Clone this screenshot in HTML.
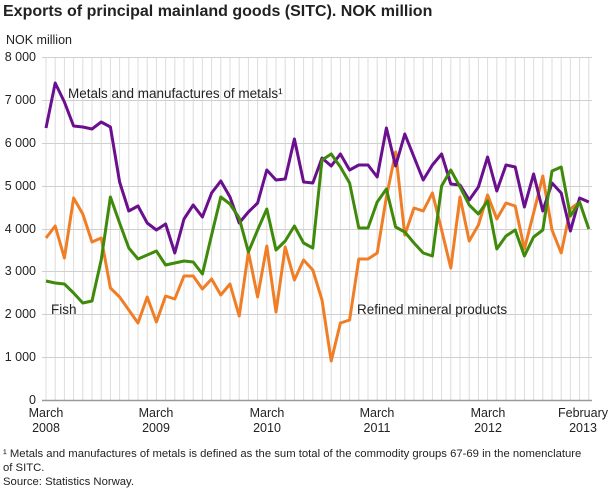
<!DOCTYPE html>
<html><head><meta charset="utf-8"><style>
body{margin:0;background:#fff;width:610px;height:488px;overflow:hidden;font-family:"Liberation Sans",sans-serif}
</style></head><body>
<svg width="610" height="488" xmlns="http://www.w3.org/2000/svg" font-family="Liberation Sans, sans-serif">
<text x="3" y="16" font-size="16" font-weight="bold" fill="#222">Exports of principal mainland goods (SITC). NOK million</text>
<text x="6" y="44" font-size="12.5" fill="#222">NOK million</text>
<g id="vg" stroke="#dcdcdc" stroke-width="1"></g>
<g stroke="#cfcfcf" stroke-width="1">
<line x1="42" x2="592" y1="57.5" y2="57.5"/><line x1="42" x2="592" y1="100.5" y2="100.5"/><line x1="42" x2="592" y1="143.5" y2="143.5"/><line x1="42" x2="592" y1="186.5" y2="186.5"/><line x1="42" x2="592" y1="229.5" y2="229.5"/><line x1="42" x2="592" y1="271.5" y2="271.5"/><line x1="42" x2="592" y1="314.5" y2="314.5"/><line x1="42" x2="592" y1="357.5" y2="357.5"/>
</g>
<line x1="42" x2="592" y1="400.5" y2="400.5" stroke="#999" stroke-width="1.5"/>
<g font-size="12.5" fill="#222" text-anchor="end">
<text x="36" y="61">8 000</text><text x="36" y="104">7 000</text><text x="36" y="147">6 000</text><text x="36" y="190">5 000</text><text x="36" y="233">4 000</text><text x="36" y="275">3 000</text><text x="36" y="318">2 000</text><text x="36" y="361">1 000</text><text x="36" y="404">0</text>
</g>
<g font-size="12.5" fill="#222" text-anchor="middle">
<text x="46" y="417">March</text><text x="46" y="432">2008</text>
<text x="156" y="417">March</text><text x="156" y="432">2009</text>
<text x="267" y="417">March</text><text x="267" y="432">2010</text>
<text x="377" y="417">March</text><text x="377" y="432">2011</text>
<text x="488" y="417">March</text><text x="488" y="432">2012</text>
<text x="583" y="417">February</text><text x="583" y="432">2013</text>
</g>
<g id="lines" fill="none" stroke-width="3" stroke-linejoin="round"></g>
<g fill="#222">
<text x="68" y="98" font-size="13.5">Metals and manufactures of metals¹</text>
<text x="51" y="314" font-size="13.5">Fish</text>
<text x="357" y="314" font-size="13.5">Refined mineral products</text>
</g>
<g font-size="11.3" fill="#222">
<text x="3" y="457">¹ Metals and manufactures of metals is defined as the sum total of the commodity groups 67-69 in the nomenclature</text>
<text x="3" y="471">of SITC.</text>
<text x="3" y="485">Source: Statistics Norway.</text>
</g>
</svg>
<script>
var vg=document.getElementById('vg'),ns='http://www.w3.org/2000/svg';
for(var i=0;i<60;i++){var x=46+i*9.2;var l=document.createElementNS(ns,'line');l.setAttribute('x1',x);l.setAttribute('x2',x);l.setAttribute('y1',57);l.setAttribute('y2',400);vg.appendChild(l);}
var P=[128,83,102,126,127,129,122,127,182,211,206,223,230,224,253,219,205,217,193,181,197,223,212,203,170,180,179,139,182,183,158,166,154,170,165,165,177,128,166,134,157,180,165,154,184,185,200,187,157,191,165,167,207,174,211,183,193,231,198,202];
var G=[281,283,284,293,303,301,260,197,223,248,259,255,251,265,263,261,262,274,235,197,204,218,252,230,209,250,241,226,243,248,160,154,167,183,228,228,202,189,227,232,243,253,256,186,170,187,205,214,201,249,236,230,256,237,230,171,167,216,202,229];
var O=[238,226,258,198,214,242,238,288,297,310,323,297,322,296,299,276,276,289,279,295,284,316,252,297,246,312,247,280,260,270,300,361,323,320,259,259,253,197,152,235,208,211,193,230,268,197,241,225,195,219,203,206,249,213,176,230,253,209,202];
function pl(a,c){var p=document.createElementNS(ns,'polyline');p.setAttribute('points',a.map(function(y,i){return (46+i*9.2)+','+y}).join(' '));p.setAttribute('stroke',c);document.getElementById('lines').appendChild(p);}
pl(O,'#f07e26');pl(P,'#6a0f8e');pl(G,'#3f8a0b');
</script>
</body></html>
